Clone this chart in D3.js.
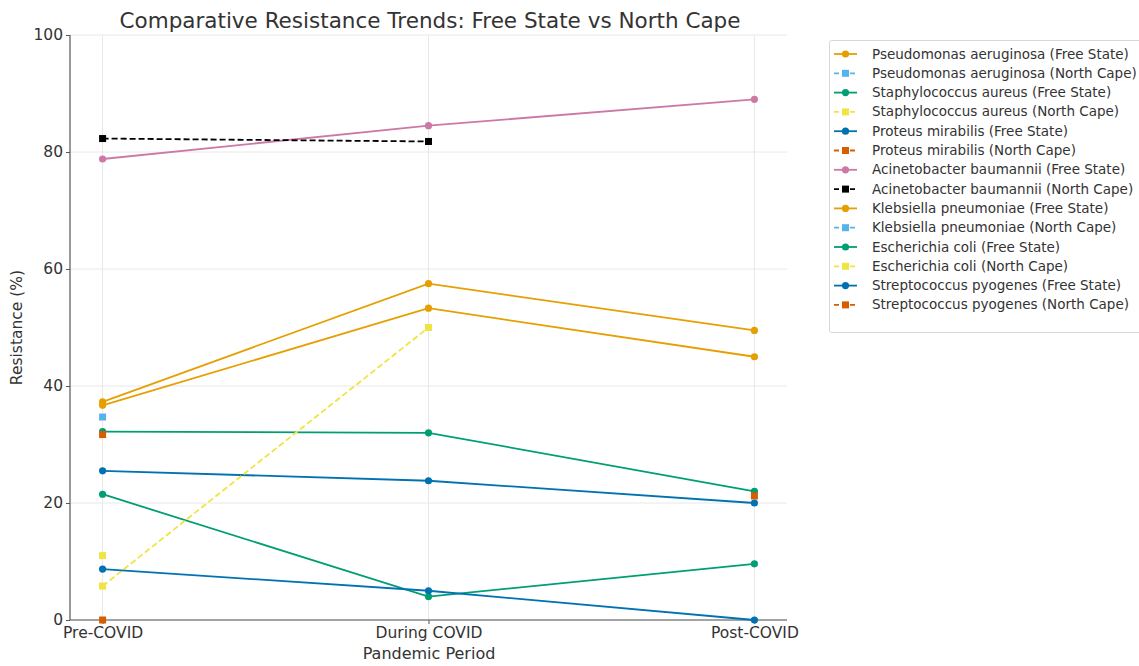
<!DOCTYPE html>
<html>
<head>
<meta charset="utf-8">
<script src="https://cdn.jsdelivr.net/npm/d3@7/dist/d3.min.js"></script>
<style>
  html, body { margin: 0; padding: 0; background: #ffffff; }
  svg { display: block; font-family: "DejaVu Sans", sans-serif; }
</style>
</head>
<body>
<svg id="chart" width="1139" height="666"></svg>
<script>
// Pandemic periods on the x axis
const periods = ["Pre-COVID", "During COVID", "Post-COVID"];
const yTicks = [0, 20, 40, 60, 80, 100];

// Resistance (%) per organism and province; null = no data for that period
const pseudomonasFS = [37.3, 57.5, 49.5];
const pseudomonasNC = [34.7, null, null];
const staphFS = [32.2, 32.0, 22.0];
const staphNC = [11.0, null, null];
const proteusFS = [25.5, 23.8, 20.0];
const proteusNC = [31.7, null, null];
const acinetoFS = [78.8, 84.5, 89.0];
const acinetoNC = [82.3, 81.8, null];
const klebsiellaFS = [36.7, 53.3, 45.0];
const klebsiellaNC = [null, null, null];
const ecoliFS = [21.5, 4.0, 9.6];
const ecoliNC = [5.8, 50.0, null];
const streptoFS = [8.7, 5.0, 0.0];
const streptoNC = [0.0, null, 21.2];

const series = [
  { name: "Pseudomonas aeruginosa (Free State)", values: pseudomonasFS, color: "#E69F00", nc: false },
  { name: "Pseudomonas aeruginosa (North Cape)", values: pseudomonasNC, color: "#56B4E9", nc: true },
  { name: "Staphylococcus aureus (Free State)", values: staphFS, color: "#009E73", nc: false },
  { name: "Staphylococcus aureus (North Cape)", values: staphNC, color: "#F0E442", nc: true },
  { name: "Proteus mirabilis (Free State)", values: proteusFS, color: "#0072B2", nc: false },
  { name: "Proteus mirabilis (North Cape)", values: proteusNC, color: "#D55E00", nc: true },
  { name: "Acinetobacter baumannii (Free State)", values: acinetoFS, color: "#CC79A7", nc: false },
  { name: "Acinetobacter baumannii (North Cape)", values: acinetoNC, color: "#000000", nc: true },
  { name: "Klebsiella pneumoniae (Free State)", values: klebsiellaFS, color: "#E69F00", nc: false },
  { name: "Klebsiella pneumoniae (North Cape)", values: klebsiellaNC, color: "#56B4E9", nc: true },
  { name: "Escherichia coli (Free State)", values: ecoliFS, color: "#009E73", nc: false },
  { name: "Escherichia coli (North Cape)", values: ecoliNC, color: "#F0E442", nc: true },
  { name: "Streptococcus pyogenes (Free State)", values: streptoFS, color: "#0072B2", nc: false },
  { name: "Streptococcus pyogenes (North Cape)", values: streptoNC, color: "#D55E00", nc: true }
];

const svg = d3.select("#chart");
const plotLeft = 70, plotRight = 787, plotTop = 35, plotBottom = 620;

const x = d3.scalePoint().domain(periods).range([plotLeft, plotRight]).padding(0.1);
const y = d3.scaleLinear().domain([0, 100]).range([plotBottom, plotTop]);

// grid
const grid = svg.append("g").attr("stroke", "#e8e8e8").attr("stroke-width", 1);
grid.selectAll("line.h").data(yTicks).join("line")
  .attr("x1", plotLeft).attr("x2", plotRight)
  .attr("y1", d => y(d)).attr("y2", d => y(d));
grid.selectAll("line.v").data(periods).join("line")
  .attr("x1", d => x(d)).attr("x2", d => x(d))
  .attr("y1", plotTop).attr("y2", plotBottom);

// axes
const xAxis = svg.append("g").attr("transform", `translate(0,${plotBottom})`)
  .call(d3.axisBottom(x).tickSize(4).tickPadding(3));
const yAxis = svg.append("g").attr("transform", `translate(${plotLeft},0)`)
  .call(d3.axisLeft(y).tickValues(yTicks).tickSize(4).tickPadding(3));
[xAxis, yAxis].forEach(a => {
  a.select(".domain").attr("stroke", "#555").attr("stroke-width", 1.2);
  a.selectAll(".tick line").attr("stroke", "#555");
  a.selectAll(".tick text").attr("fill", "#333").style("font-size", "15.5px")
    .style("font-family", "DejaVu Sans, sans-serif");
});
xAxis.select(".domain").attr("d", `M${plotLeft},0H${plotRight}`);
yAxis.select(".domain").attr("d", `M0,${plotBottom}V${plotTop}`);

// lines and markers
const line = d3.line()
  .defined(d => d.v !== null)
  .x(d => x(d.p)).y(d => y(d.v));

series.forEach(s => {
  const pts = s.values.map((v, i) => ({ p: periods[i], v }));
  const g = svg.append("g");
  g.append("path").datum(pts)
    .attr("d", line)
    .attr("fill", "none")
    .attr("stroke", s.color)
    .attr("stroke-width", 1.8)
    .attr("stroke-dasharray", s.nc ? "6,3" : null);
  const valid = pts.filter(d => d.v !== null);
  if (s.nc) {
    g.selectAll("rect").data(valid).join("rect")
      .attr("x", d => x(d.p) - 3.5).attr("y", d => y(d.v) - 3.5)
      .attr("width", 7).attr("height", 7)
      .attr("fill", s.color);
  } else {
    g.selectAll("circle").data(valid).join("circle")
      .attr("cx", d => x(d.p)).attr("cy", d => y(d.v))
      .attr("r", 3.6).attr("fill", s.color);
  }
});

// title and axis labels
svg.append("text").attr("x", 430).attr("y", 28)
  .attr("text-anchor", "middle").attr("fill", "#333")
  .style("font-size", "21.5px")
  .text("Comparative Resistance Trends: Free State vs North Cape");
svg.append("text").attr("x", 429).attr("y", 659)
  .attr("text-anchor", "middle").attr("fill", "#333")
  .style("font-size", "16px").text("Pandemic Period");
svg.append("text")
  .attr("transform", `translate(22,${(plotTop + plotBottom) / 2}) rotate(-90)`)
  .attr("text-anchor", "middle").attr("fill", "#333")
  .style("font-size", "15.5px").text("Resistance (%)");

// legend
const lg = svg.append("g").attr("transform", "translate(829,40)");
lg.append("rect").attr("x", 0.5).attr("y", 0.5).attr("width", 330).attr("height", 292)
  .attr("fill", "#fff").attr("stroke", "#d8d8d8").attr("rx", 2);
series.forEach((s, i) => {
  const yy = 14 + i * 19.3;
  const row = lg.append("g").attr("transform", `translate(0,${yy})`);
  row.append("line").attr("x1", 5).attr("x2", 28).attr("y1", 0).attr("y2", 0)
    .attr("stroke", s.color).attr("stroke-width", 1.8)
    .attr("stroke-dasharray", s.nc ? "5,3" : null);
  if (s.nc) {
    row.append("rect").attr("x", 13).attr("y", -3.5).attr("width", 7).attr("height", 7).attr("fill", s.color);
  } else {
    row.append("circle").attr("cx", 16.5).attr("cy", 0).attr("r", 3.6).attr("fill", s.color);
  }
  row.append("text").attr("x", 43).attr("y", 4.5)
    .attr("fill", "#333").style("font-size", "13.5px").text(s.name);
});
</script>
</body>
</html>
